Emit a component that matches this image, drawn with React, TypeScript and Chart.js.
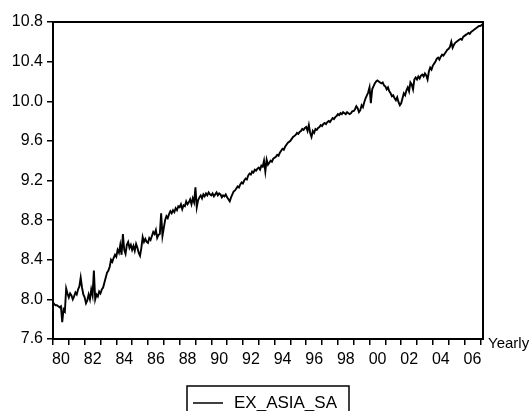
import React, { useEffect, useRef } from "react";
import { Chart, registerables } from "chart.js";

Chart.register(...registerables);

const seriesName = "EX_ASIA_SA";
const frequencyLabel = "Yearly";
const firstYear = 1980;
const axisEnd = 2007.17;
const yearTicks = [
  1980, 1981, 1982, 1983, 1984, 1985, 1986, 1987, 1988, 1989, 1990, 1991, 1992, 1993,
  1994, 1995, 1996, 1997, 1998, 1999, 2000, 2001, 2002, 2003, 2004, 2005, 2006, 2007,
];
const yTickValues = [7.6, 8.0, 8.4, 8.8, 9.2, 9.6, 10.0, 10.4, 10.8];

// Monthly observations starting January 1980, one row per year
const exAsiaSa = [
  7.97, 7.95, 7.94, 7.94, 7.93, 7.92, 7.93, 7.77, 7.90, 7.88, 8.11, 8.06, // 1980
  8.02, 8.06, 8.04, 8.00, 8.03, 8.07, 8.05, 8.10, 8.13, 8.22, 8.12, 8.05, // 1981
  8.02, 7.96, 7.99, 8.05, 8.00, 8.10, 8.04, 8.29, 8.00, 8.05, 8.03, 8.08, // 1982
  8.06, 8.10, 8.12, 8.17, 8.22, 8.27, 8.29, 8.33, 8.40, 8.38, 8.42, 8.45, // 1983
  8.43, 8.50, 8.47, 8.55, 8.45, 8.66, 8.50, 8.46, 8.55, 8.58, 8.52, 8.55, // 1984
  8.50, 8.54, 8.49, 8.56, 8.52, 8.47, 8.44, 8.52, 8.63, 8.58, 8.61, 8.58, // 1985
  8.57, 8.62, 8.60, 8.64, 8.68, 8.66, 8.70, 8.62, 8.65, 8.66, 8.87, 8.64, // 1986
  8.72, 8.80, 8.84, 8.82, 8.86, 8.89, 8.87, 8.90, 8.88, 8.92, 8.90, 8.94, // 1987
  8.93, 8.96, 8.91, 8.95, 8.94, 8.99, 8.96, 8.98, 9.01, 8.96, 9.02, 8.98, // 1988
  9.13, 8.93, 9.00, 9.03, 9.05, 9.02, 9.06, 9.04, 9.07, 9.05, 9.08, 9.06, // 1989
  9.05, 9.07, 9.04, 9.06, 9.08, 9.05, 9.07, 9.06, 9.03, 9.05, 9.04, 9.06, // 1990
  9.03, 9.01, 8.99, 9.03, 9.06, 9.09, 9.10, 9.12, 9.14, 9.13, 9.16, 9.18, // 1991
  9.17, 9.20, 9.22, 9.21, 9.25, 9.27, 9.26, 9.29, 9.28, 9.31, 9.30, 9.32, // 1992
  9.33, 9.31, 9.35, 9.34, 9.40, 9.29, 9.41, 9.36, 9.38, 9.40, 9.39, 9.42, // 1993
  9.43, 9.44, 9.46, 9.45, 9.48, 9.50, 9.52, 9.51, 9.54, 9.56, 9.58, 9.59, // 1994
  9.60, 9.62, 9.64, 9.65, 9.66, 9.68, 9.67, 9.69, 9.70, 9.72, 9.71, 9.73, // 1995
  9.74, 9.70, 9.76, 9.68, 9.64, 9.70, 9.68, 9.72, 9.71, 9.73, 9.74, 9.76, // 1996
  9.75, 9.77, 9.78, 9.77, 9.79, 9.80, 9.79, 9.81, 9.83, 9.82, 9.84, 9.85, // 1997
  9.87, 9.86, 9.88, 9.87, 9.89, 9.88, 9.87, 9.89, 9.88, 9.87, 9.88, 9.90, // 1998
  9.90, 9.92, 9.95, 9.93, 9.89, 9.91, 9.96, 9.94, 9.99, 10.03, 10.06, 10.09, // 1999
  10.14, 9.98, 10.12, 10.15, 10.18, 10.20, 10.21, 10.20, 10.19, 10.18, 10.19, 10.16, // 2000
  10.15, 10.12, 10.14, 10.10, 10.08, 10.05, 10.06, 10.03, 10.01, 10.04, 9.99, 9.96, // 2001
  9.98, 10.03, 10.08, 10.06, 10.11, 10.14, 10.10, 10.19, 10.17, 10.12, 10.22, 10.24, // 2002
  10.22, 10.25, 10.23, 10.26, 10.27, 10.25, 10.28, 10.26, 10.22, 10.30, 10.34, 10.32, // 2003
  10.36, 10.38, 10.40, 10.43, 10.44, 10.42, 10.45, 10.47, 10.46, 10.48, 10.50, 10.52, // 2004
  10.53, 10.55, 10.60, 10.54, 10.57, 10.59, 10.60, 10.61, 10.62, 10.63, 10.62, 10.65, // 2005
  10.66, 10.67, 10.68, 10.69, 10.68, 10.70, 10.71, 10.72, 10.73, 10.74, 10.75, 10.76, // 2006
  10.76, 10.77, 10.78, // 2007
];

const FONT = "'Liberation Sans', Arial, Helvetica, sans-serif";
const INK = "#000";

// Plot frame, frequency caption and boxed legend
const decorPlugin = {
  id: "decor",
  afterDatasetsDraw(chart: any) {
    const { ctx, chartArea: a } = chart;
    ctx.save();
    ctx.strokeStyle = INK;
    ctx.lineWidth = 2;
    ctx.strokeRect(a.left, a.top, a.right - a.left, a.bottom - a.top);

    ctx.fillStyle = INK;
    ctx.font = `15px ${FONT}`;
    ctx.textAlign = "left";
    ctx.textBaseline = "middle";
    ctx.fillText(frequencyLabel, a.right + 5, a.bottom + 5);

    const label = chart.data.datasets[0].label as string;
    const boxW = 162;
    const cx = (a.left + a.right) / 2;
    const boxL = Math.round(cx - boxW / 2);
    const boxT = a.bottom + 47;
    ctx.lineWidth = 1.5;
    ctx.strokeRect(boxL, boxT, boxW, 40);
    const ly = boxT + 17;
    ctx.beginPath();
    ctx.moveTo(boxL + 6, ly);
    ctx.lineTo(boxL + 36, ly);
    ctx.lineWidth = 1.5;
    ctx.stroke();
    ctx.font = `17px ${FONT}`;
    ctx.fillText(label, boxL + 47, ly);
    ctx.restore();
  },
};

export default function App() {
  const canvasRef = useRef<HTMLCanvasElement | null>(null);

  useEffect(() => {
    if (!canvasRef.current) return;
    const points = exAsiaSa.map((v, i) => ({ x: firstYear + i / 12, y: v }));
    const chart = new Chart(canvasRef.current, {
      type: "line",
      data: {
        datasets: [
          {
            label: seriesName,
            data: points,
            borderColor: INK,
            borderWidth: 1.9,
            pointRadius: 0,
            tension: 0,
            fill: false,
          },
        ],
      },
      options: {
        animation: false,
        responsive: false,
        maintainAspectRatio: false,
        layout: { padding: { top: 22, right: 49, left: 0, bottom: 0 } },
        plugins: { legend: { display: false }, tooltip: { enabled: false } },
        scales: {
          x: {
            type: "linear",
            min: firstYear,
            max: axisEnd,
            afterBuildTicks: (s: any) => {
              s.ticks = yearTicks.map((v) => ({ value: v }));
            },
            afterFit: (s: any) => {
              s.height = 72;
            },
            grid: {
              drawOnChartArea: false,
              drawTicks: true,
              tickLength: 6,
              color: INK,
              lineWidth: 1.5,
            },
            border: { display: false },
            ticks: {
              autoSkip: false,
              maxRotation: 0,
              minRotation: 0,
              labelOffset: 8,
              padding: 5,
              color: INK,
              font: { family: FONT, size: 16 },
              callback: (v: any) =>
                Number(v) % 2 === 0 ? String(Number(v) % 100).padStart(2, "0") : "",
            },
          },
          y: {
            type: "linear",
            min: 7.6,
            max: 10.8,
            afterBuildTicks: (s: any) => {
              s.ticks = yTickValues.map((v) => ({ value: v }));
            },
            afterFit: (s: any) => {
              s.width = 53;
            },
            grid: {
              drawOnChartArea: false,
              drawTicks: true,
              tickLength: 6,
              color: INK,
              lineWidth: 1.5,
            },
            border: { display: false },
            ticks: {
              padding: 4,
              color: INK,
              font: { family: FONT, size: 16 },
              callback: (v: any) => Number(v).toFixed(1),
            },
          },
        },
      },
      plugins: [decorPlugin],
    });
    return () => chart.destroy();
  }, []);

  return (
    <div style={{ position: "absolute", left: 0, top: 0, width: 532, height: 411, background: "#fff" }}>
      <canvas ref={canvasRef} width={532} height={411} />
    </div>
  );
}
